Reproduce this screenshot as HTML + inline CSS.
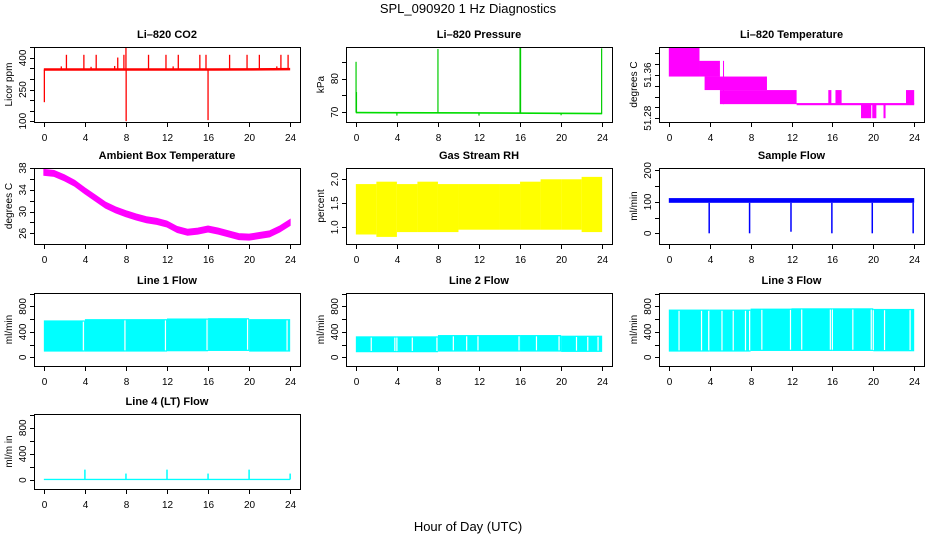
<!DOCTYPE html>
<html><head><meta charset="utf-8"><style>
body{margin:0;background:#fff;}
svg{display:block;font-family:"Liberation Sans",sans-serif;}
</style></head><body>
<svg id="c" width="936" height="540" viewBox="0 0 936 540">
<text x="468" y="13" font-size="13" text-anchor="middle">SPL_090920  1 Hz Diagnostics</text>
<text x="468" y="531" font-size="13" text-anchor="middle">Hour of Day (UTC)</text>
</svg>
<script>
// ---- data ----
const xTicks=[0,4,8,12,16,20,24];
// CO2
const co2Base=[345,345,347];
const co2BaseT=[0,16.5,24];
const co2SpikeT=[0.05,2.2,3.9,5.1,7.2,7.8,8.0,8.02,10.2,11.9,13.1,15.2,15.8,16.0,18.1,19.8,21.0,23.1,23.8,1.7,4.6,6.9,12.6,22.7];
const co2SpikeV=[190,415,415,415,402,415,450,100,415,415,415,415,415,105,415,415,415,415,415,360,358,362,360,360];
// Pressure
const presBase=[69.9,69.8,69.6];
const presBaseT=[0,12,24];
const presSpikeT=[0.02,0.06,8.0,16.0,16.05,23.95,4.0,12.0,20.0];
const presSpikeV=[85,76,88.8,89.3,89.3,89.0,69.0,69.0,69.1];
// Li-820 temperature blocks
const tempStart=[0,3.0,3.5,5.0,5.3,9.4,12.5,15.6,16.3,18.8,19.9,21.0,23.2];
const tempEnd=[3.0,5.0,9.5,12.5,5.4,9.6,24,15.9,16.9,19.8,20.3,21.2,24];
const tempLow=[51.357,51.357,51.332,51.306,51.306,51.332,51.304,51.306,51.306,51.28,51.28,51.28,51.306];
const tempHigh=[51.412,51.386,51.357,51.332,51.386,51.357,51.308,51.332,51.332,51.306,51.306,51.306,51.332];
// Ambient box temperature (hourly)
const ambT=[0,1,2,3,4,5,6,7,8,9,10,11,12,13,14,15,16,17,18,19,20,21,22,23,24];
const ambV=[37.2,37.0,36.2,35.2,33.8,32.5,31.2,30.3,29.6,29.0,28.5,28.2,27.7,26.7,26.2,26.4,26.8,26.4,25.9,25.4,25.3,25.6,25.9,26.8,28.0];
// Gas stream RH (2-hour bins)
const rhT=[0,2,4,6,8,10,12,14,16,18,20,22,24];
const rhLow=[0.85,0.8,0.9,0.9,0.9,0.95,0.95,0.95,0.95,0.95,0.95,0.9,1.0];
const rhHigh=[1.9,1.95,1.9,1.95,1.9,1.9,1.9,1.9,1.95,2.0,2.0,2.05,2.05];
// Sample flow
const sfLow=97, sfHigh=112;
const sfDropT=[3.95,7.9,11.95,15.95,19.9,23.9];
const sfDropV=[0,0,5,0,0,0];
// Line flows
const l1High=[580,600,600,610,615,600];
const l1Low=[90,90,90,95,100,90];
const l1Gaps=[3.85,7.9,11.85,15.9,19.85,23.7];
const l2High=[330,330,350,350,350,340];
const l2Low=[80,80,90,90,90,85];
const l2Gaps=[1.5,3.8,4.0,5.5,7.9,9.5,10.8,11.9,15.9,17.6,19.8,21.5,22.6,23.6];
const l3High=[750,750,765,770,770,760];
const l3Low=[90,90,100,100,100,95];
const l3Gaps=[1.0,3.2,3.9,5.2,6.3,7.5,7.9,9.1,11.9,13.0,15.8,16.0,18.0,19.8,20.0,21.1,23.6];
const l4Base=10;
const l4SpikeT=[4,8,12,16,20,24];
const l4SpikeV=[160,100,160,100,160,100];

// ---- layout ----
const svg=document.getElementById('c');
const NS='http://www.w3.org/2000/svg';
const colL=[34,346,659], colW=[266,266,265];
const rowT=[47,168,293,414], rowH=[75,76,73,75];
function el(tag,attrs,parent){const e=document.createElementNS(NS,tag);for(const k in attrs)e.setAttribute(k,attrs[k]);(parent||svg).appendChild(e);return e;}

function panel(o){
  const L=colL[o.col],W=colW[o.col],T=rowT[o.row],H=rowH[o.row];
  const g=el('g',{});
  
  
  const sx=v=>L+(v+0.96)/25.92*W;
  const sy=v=>T+H-(v-o.ymin)/(o.ymax-o.ymin)*H;
  const clip=el('clipPath',{id:'cl'+o.name},g);
  el('rect',{x:L,y:T,width:W,height:H},clip);
  const data=el('g',{'clip-path':'url(#cl'+o.name+')'},g);
  
  
  const box=el('rect',{x:L+0.5,y:T+0.5,width:W,height:H,fill:'none',stroke:'#000','stroke-width':1},g);
  
  
  const t=el('text',{x:L+W/2,y:T-9,'font-size':11,'font-weight':'bold','text-anchor':'middle'},g);
  t.textContent=o.title;
  
  
  const xa=el('g',{},g);
  
  
  xTicks.forEach(v=>{
    const x=Math.round(sx(v))+0.5;
    el('line',{x1:x,x2:x,y1:T+H+0.5,y2:T+H+5,stroke:'#000'},xa);
    const tx=el('text',{x:x,y:T+H+19,'font-size':10,'text-anchor':'middle'},xa);
    tx.textContent=v;
  });
  const ya=el('g',{},g);
  
  
  o.ticks.forEach(v=>{
    const y=Math.round(sy(v))+0.5;
    el('line',{x1:L-4,x2:L+0.5,y1:y,y2:y,stroke:'#000'},ya);
  });
  o.labels.forEach(v=>{
    const y=sy(v);
    const tx=el('text',{x:0,y:0,'font-size':10,'text-anchor':'middle',transform:`translate(${L-8},${y}) rotate(-90)`},ya);
    tx.textContent=v;
  });
  const yl=el('text',{x:0,y:0,'font-size':10,'text-anchor':'middle',transform:`translate(${L-22},${T+H/2}) rotate(-90)`},g);
  yl.textContent=o.ylab;
  
  
  return {sx,sy,data};
}
function vline(p,x,v1,v2,col,w){return el('line',{x1:p.sx(x),x2:p.sx(x),y1:p.sy(v1),y2:p.sy(v2),stroke:col,'stroke-width':w||1.2},p.data);}
function poly(p,xs,vs,col,w){return el('polyline',{points:xs.map((x,i)=>p.sx(x)+','+p.sy(vs[i])).join(' '),fill:'none',stroke:col,'stroke-width':w},p.data);}
function band(p,x1,x2,lo,hi,col){return el('rect',{x:p.sx(x1),y:p.sy(hi),width:Math.max(1,p.sx(x2)-p.sx(x1)),height:p.sy(lo)-p.sy(hi),fill:col},p.data);}
function baseAt(ts,vs,t){for(let i=0;i<ts.length-1;i++){if(t<=ts[i+1])return vs[i]+(vs[i+1]-vs[i])*(t-ts[i])/(ts[i+1]-ts[i]);}return vs[vs.length-1];}

// CO2
let p=panel({col:0,row:0,name:'co2-panel',title:'Li\u2013820 CO2',ylab:'Licor ppm',ymin:96,ymax:452,ticks:[100,150,200,250,300,350,400,450],labels:[100,250,400]});
poly(p,co2BaseT,co2Base,'#ff0000',2.5);
co2SpikeT.forEach((t,i)=>{const s=vline(p,t,baseAt(co2BaseT,co2Base,t),co2SpikeV[i],'#ff0000',1.3);});

// Pressure
p=panel({col:1,row:0,name:'pressure-panel',title:'Li\u2013820 Pressure',ylab:'kPa',ymin:67.1,ymax:89.4,ticks:[70,75,80,85],labels:[70,80]});
poly(p,presBaseT,presBase,'#00dd00',1.6);
presSpikeT.forEach((t,i)=>{const s=vline(p,t,baseAt(presBaseT,presBase,t),presSpikeV[i],'#00cc00',1.2);});

// Li-820 Temperature
p=panel({col:2,row:0,name:'li820-temperature-panel',title:'Li\u2013820 Temperature',ylab:'degrees C',ymin:51.273,ymax:51.4116,ticks:[51.28,51.30,51.32,51.34,51.36,51.38,51.40],labels:['51.28','51.36']});
tempStart.forEach((s,i)=>{const r=band(p,s,tempEnd[i],tempLow[i],tempHigh[i],'#ff00ff');});

// Ambient
p=panel({col:0,row:1,name:'ambient-temperature-panel',title:'Ambient Box Temperature',ylab:'degrees C',ymin:24.04,ymax:38,ticks:[26,28,30,32,34,36,38],labels:[26,30,34,38]});
{const pts=ambT.map((t,i)=>p.sx(t)+','+p.sy(ambV[i]+0.55)).concat(ambT.slice().reverse().map((t,j)=>{const i=ambT.length-1-j;return p.sx(t)+','+p.sy(ambV[i]-0.55);}));
const a=el('polygon',{points:pts.join(' '),fill:'#ff00ff',stroke:'#ff00ff','stroke-width':1},p.data);
}

// RH
p=panel({col:1,row:1,name:'rh-panel',title:'Gas Stream RH',ylab:'percent',ymin:0.652,ymax:2.235,ticks:[1.0,1.5,2.0],labels:['1.0','1.5','2.0']});
rhT.forEach((t,i)=>{if(i<rhT.length-1){const r=band(p,t,rhT[i+1],rhLow[i],rhHigh[i],'#ffff00');}});

// Sample flow
p=panel({col:2,row:1,name:'sample-flow-panel',title:'Sample Flow',ylab:'ml/min',ymin:-34,ymax:207.7,ticks:[0,50,100,150,200],labels:[0,100,200]});
{const r=band(p,0,24,sfLow,sfHigh,'#0000ff');}
sfDropT.forEach((t,i)=>{const s=vline(p,t,sfLow,sfDropV[i],'#0000ff',1.5);});

// Line flows
function flow(col,row,name,title,hi,lo,gaps){
  const q=panel({col:col,row:row,name:name,title:title,ylab:'ml/min',ymin:-136,ymax:1010,ticks:[0,200,400,600,800,1000],labels:[0,400,800]});
  hi.forEach((h,i)=>{const r=band(q,i*4,i*4+4,lo[i],h,'#00ffff');});
  gaps.forEach(t=>{const k=Math.min(5,Math.floor(t/4));const g=vline(q,t,lo[k]+20,hi[k]-20,'#ffffff',1.2);});
  return q;
}
flow(0,2,'line1-flow-panel','Line 1 Flow',l1High,l1Low,l1Gaps);
flow(1,2,'line2-flow-panel','Line 2 Flow',l2High,l2Low,l2Gaps);
flow(2,2,'line3-flow-panel','Line 3 Flow',l3High,l3Low,l3Gaps);
p=panel({col:0,row:3,name:'line4-flow-panel',title:'Line 4 (LT) Flow',ylab:'ml/m in',ymin:-136,ymax:1010,ticks:[0,200,400,600,800,1000],labels:[0,400,800]});
{const r=band(p,0,24,0,l4Base+10,'#00ffff');}
l4SpikeT.forEach((t,i)=>{const s=vline(p,t,l4Base,l4SpikeV[i],'#00ffff',1.5);});
</script>
</body></html>
